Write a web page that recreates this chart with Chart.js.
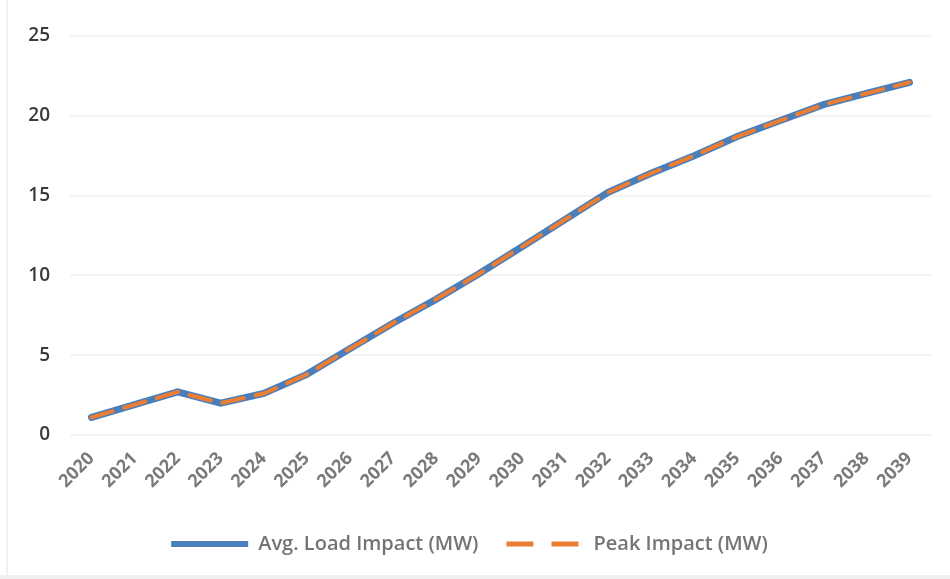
<!DOCTYPE html>
<html>
<head>
<meta charset="utf-8">
<script src="https://cdn.jsdelivr.net/npm/chart.js@4.4.1/dist/chart.umd.min.js"></script>
<style>
  html, body { margin: 0; padding: 0; background: #ffffff; }
  #wrap { position: relative; width: 950px; height: 579px; }
  #wrap::before { content: ""; position: absolute; left: 6px; top: 0; width: 2px; height: 575px; background: #f1f1f1; }
  #wrap::after { content: ""; position: absolute; left: 0; bottom: 0; width: 950px; height: 4px; background: #efefef; }
  canvas { display: block; }
</style>
</head>
<body>
<div id="wrap"><canvas id="c" width="950" height="579"></canvas></div>
<script>
// Yearly load impact, in MW
const years = ['2020','2021','2022','2023','2024','2025','2026','2027','2028','2029',
               '2030','2031','2032','2033','2034','2035','2036','2037','2038','2039'];
const avgLoadImpact = [1.1, 1.9, 2.7, 2.0, 2.6, 3.8, 5.4, 7.0, 8.5, 10.1,
                       11.8, 13.5, 15.2, 16.4, 17.5, 18.7, 19.7, 20.7, 21.4, 22.1];
const peakImpact    = [1.1, 1.9, 2.7, 2.0, 2.6, 3.8, 5.4, 7.0, 8.5, 10.1,
                       11.8, 13.5, 15.2, 16.4, 17.5, 18.7, 19.7, 20.7, 21.4, 22.1];
const yTicks = [0, 5, 10, 15, 20, 25];

const BLUE = '#4a7ebb';
const ORANGE = '#ed7d31';
const FONT = "'Open Sans', 'Liberation Sans', sans-serif";

new Chart(document.getElementById('c'), {
  type: 'line',
  data: {
    labels: years,
    datasets: [
      {
        label: 'Avg. Load Impact (MW)',
        data: avgLoadImpact,
        borderColor: BLUE,
        backgroundColor: BLUE,
        borderWidth: 7,
        pointRadius: 0,
        tension: 0,
        borderCapStyle: 'round',
        order: 2
      },
      {
        label: 'Peak Impact (MW)',
        data: peakImpact,
        borderColor: ORANGE,
        backgroundColor: ORANGE,
        borderWidth: 4,
        borderDash: [22, 12],
        pointRadius: 0,
        tension: 0,
        borderCapStyle: 'round',
        order: 1
      }
    ]
  },
  options: {
    responsive: false,
    animation: false,
    layout: { padding: { left: 8, right: 19, top: 36, bottom: 15 } },
    plugins: {
      tooltip: { enabled: false },
      legend: {
        position: 'bottom',
        labels: {
          usePointStyle: true,
          pointStyle: 'line',
          pointStyleWidth: 77,
          boxWidth: 77,
          boxHeight: 6,
          padding: 28,
          color: '#747474',
          font: { family: FONT, size: 20, weight: '600' },
          generateLabels(chart) {
            const items = Chart.defaults.plugins.legend.labels.generateLabels(chart);
            items.forEach(it => {
              if (it.datasetIndex === 1) { it.lineDash = [27, 18]; it.lineWidth = 5; }
              else { it.lineWidth = 6; }
            });
            // legend follows dataset order, not draw order
            return items.sort((a, b) => a.datasetIndex - b.datasetIndex);
          }
        }
      }
    },
    scales: {
      x: {
        offset: true,
        grid: { display: false },
        border: { display: false },
        ticks: {
          color: '#7a7a7a',
          font: { family: FONT, size: 18, weight: '700' },
          maxRotation: 45,
          minRotation: 45,
          autoSkip: false,
          padding: 5
        },
        afterFit(scale) { scale.height = 71; }
      },
      y: {
        min: 0,
        max: 25,
        afterBuildTicks(scale) { scale.ticks = yTicks.map(v => ({ value: v })); },
        grid: { color: '#f4f4f4', lineWidth: 2, drawTicks: false },
        border: { display: false },
        ticks: {
          color: '#3a3a3a',
          font: { family: FONT, size: 19, weight: '600' },
          padding: 20
        },
        afterFit(scale) { scale.width = 62; }
      }
    }
  }
});
</script>
</body>
</html>
